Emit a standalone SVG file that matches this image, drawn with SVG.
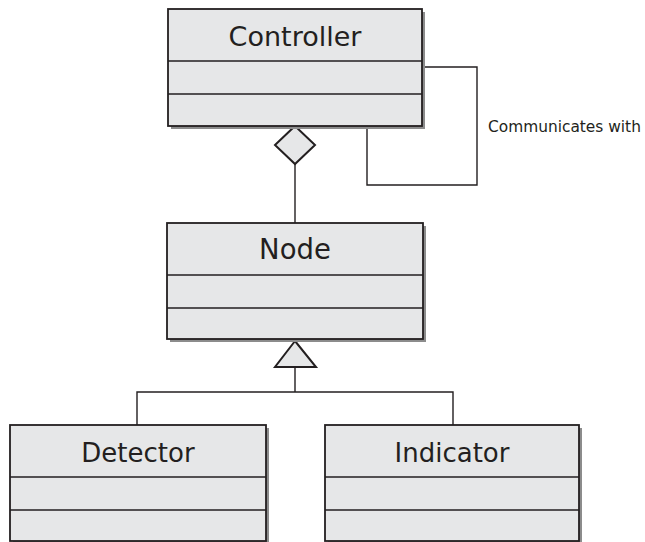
<svg xmlns="http://www.w3.org/2000/svg" width="645" height="542" viewBox="0 0 645 542">
<style>
.shadow{fill:#8c8c8c}
.box{fill:#e6e7e8;stroke:#231f20;stroke-width:1.8}
.div{stroke:#231f20;stroke-width:1.6;fill:none}
.title{font-family:"DejaVu Sans",sans-serif;fill:#231f20;text-anchor:middle}
.conn{fill:none;stroke:#231f20;stroke-width:1.4}
.head{fill:#e6e7e8;stroke:#231f20;stroke-width:2}
.lbl{font-family:"DejaVu Sans",sans-serif;font-size:15.4px;fill:#231f20}
</style>
<g id="connectors">
  <path class="conn" d="M422,67 H477 V185 H367 V126"/>
  <path class="conn" d="M295,164 V223"/>
  <path class="conn" d="M295,367 V392 M137,425 V392 H453 V425"/>
  <polygon class="head" points="295,126 315,145 295,164 275,145"/>
  <polygon class="head" points="295,341 316,367 275,367"/>
  <text class="lbl" x="488" y="132">Communicates with</text>
</g>
<g id="controller">
  <rect class="shadow" x="171" y="12" width="254" height="117"/>
  <rect class="box" x="168" y="9" width="254" height="117"/>
  <path class="div" d="M168,61 H422 M168,94 H422"/>
  <text class="title" x="295" y="46" font-size="27">Controller</text>
</g>
<g id="node">
  <rect class="shadow" x="170" y="226" width="256" height="116"/>
  <rect class="box" x="167" y="223" width="256" height="116"/>
  <path class="div" d="M167,275 H423 M167,308 H423"/>
  <text class="title" x="295" y="259" font-size="27.5">Node</text>
</g>
<g id="detector">
  <rect class="shadow" x="13" y="428" width="256" height="116"/>
  <rect class="box" x="10" y="425" width="256" height="116"/>
  <path class="div" d="M10,477 H266 M10,510 H266"/>
  <text class="title" x="138" y="462" font-size="26">Detector</text>
</g>
<g id="indicator">
  <rect class="shadow" x="328" y="428" width="254" height="116"/>
  <rect class="box" x="325" y="425" width="254" height="116"/>
  <path class="div" d="M325,477 H579 M325,510 H579"/>
  <text class="title" x="452" y="462" font-size="26">Indicator</text>
</g>
</svg>
